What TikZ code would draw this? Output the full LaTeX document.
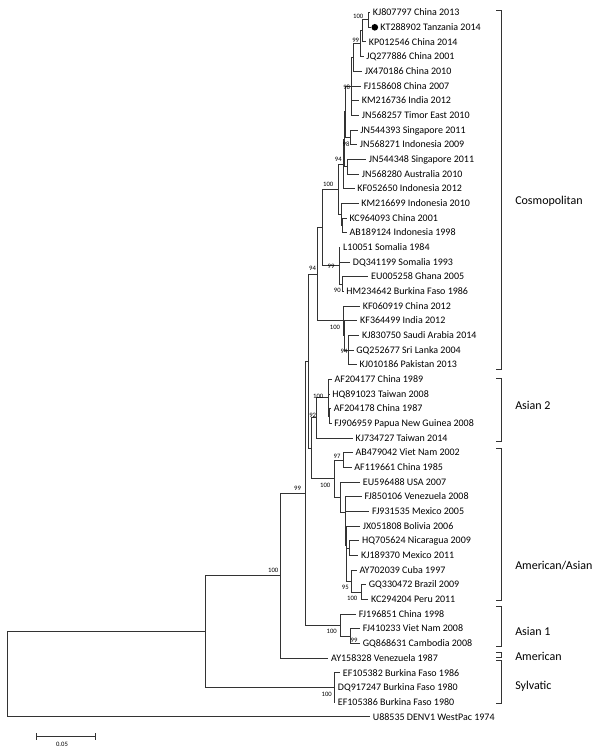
\documentclass[tikz,border=0pt]{standalone}
\usepackage{fontspec}
\setmainfont{Carlito}
\usetikzlibrary{shapes.geometric}
\begin{document}
\begin{tikzpicture}[x=0.75pt, y=-0.75pt,
  taxon/.style={anchor=west, inner xsep=2pt, inner ysep=0pt, text height=4.8pt, text depth=0pt, font=\fontsize{7.5}{8}\selectfont},
  boot/.style={inner sep=0pt, font=\fontsize{5}{6}\selectfont},
  clade/.style={anchor=west, inner sep=0pt, text height=6pt, text depth=0pt, font=\fontsize{9}{10}\selectfont},
  branch/.style={line width=0.7pt, black!80}]

\useasboundingbox (0,0) rectangle (600,750);

\node[taxon] (t1) at (370,12.6) {KJ807797 China 2013};
\node[circle, fill=black, inner sep=0pt, minimum size=5pt] (dot) at (374.8,27.3) {};
\node[taxon] (t2) at (377.5,27.3) {KT288902 Tanzania 2014};
\node[taxon] (t3) at (366,41.9) {KP012546 China 2014};
\node[taxon] (t4) at (363.5,56.6) {JQ277886 China 2001};
\node[taxon] (t5) at (362,71.3) {JX470186 China 2010};
\node[taxon] (t6) at (361,86) {FJ158608 China 2007};
\node[taxon] (t7) at (359,100.6) {KM216736 India 2012};
\node[taxon] (t8) at (359,115.3) {JN568257 Timor East 2010};
\node[taxon] (t9) at (357.5,130) {JN544393 Singapore 2011};
\node[taxon] (t10) at (357,144.6) {JN568271 Indonesia 2009};
\node[taxon] (t11) at (366,159.3) {JN544348 Singapore 2011};
\node[taxon] (t12) at (359,174) {JN568280 Australia 2010};
\node[taxon] (t13) at (354.5,188.6) {KF052650 Indonesia 2012};
\node[taxon] (t14) at (358.5,203.3) {KM216699 Indonesia 2010};
\node[taxon] (t15) at (346.7,218) {KC964093 China 2001};
\node[taxon] (t16) at (346.7,232.7) {AB189124 Indonesia 1998};
\node[taxon] (t17) at (340.3,247.3) {L10051 Somalia 1984};
\node[taxon] (t18) at (350,262) {DQ341199 Somalia 1993};
\node[taxon] (t19) at (368.3,276.7) {EU005258 Ghana 2005};
\node[taxon] (t20) at (343.5,291.3) {HM234642 Burkina Faso 1986};
\node[taxon] (t21) at (360,306) {KF060919 China 2012};
\node[taxon] (t22) at (357.3,320.7) {KF364499 India 2012};
\node[taxon] (t23) at (359.3,335.3) {KJ830750 Saudi Arabia 2014};
\node[taxon] (t24) at (353.5,350) {GQ252677 Sri Lanka 2004};
\node[taxon] (t25) at (356.7,364.7) {KJ010186 Pakistan 2013};
\node[taxon] (t26) at (331.7,379.3) {AF204177 China 1989};
\node[taxon] (t27) at (329.5,394) {HQ891023 Taiwan 2008};
\node[taxon] (t28) at (331,408.7) {AF204178 China 1987};
\node[taxon] (t29) at (331.5,423.4) {FJ906959 Papua New Guinea 2008};
\node[taxon] (t30) at (352.7,438) {KJ734727 Taiwan 2014};
\node[taxon] (t31) at (352.7,452.7) {AB479042 Viet Nam 2002};
\node[taxon] (t32) at (351.5,467.4) {AF119661 China 1985};
\node[taxon] (t33) at (360,482) {EU596488 USA 2007};
\node[taxon] (t34) at (361.7,496.7) {FJ850106 Venezuela 2008};
\node[taxon] (t35) at (369.3,511.4) {FJ931535 Mexico 2005};
\node[taxon] (t36) at (360,526) {JX051808 Bolivia 2006};
\node[taxon] (t37) at (359.3,540.7) {HQ705624 Nicaragua 2009};
\node[taxon] (t38) at (358.3,555.4) {KJ189370 Mexico 2011};
\node[taxon] (t39) at (356.7,570.1) {AY702039 Cuba 1997};
\node[taxon] (t40) at (366,584.7) {GQ330472 Brazil 2009};
\node[taxon] (t41) at (368.3,599.4) {KC294204 Peru 2011};
\node[taxon] (t42) at (356,614.1) {FJ196851 China 1998};
\node[taxon] (t43) at (360,628.7) {FJ410233 Viet Nam 2008};
\node[taxon] (t44) at (360,643.4) {GQ868631 Cambodia 2008};
\node[taxon] (t45) at (328.3,658.1) {AY158328 Venezuela 1987};
\node[taxon] (t46) at (340,672.8) {EF105382 Burkina Faso 1986};
\node[taxon] (t47) at (335,687.4) {DQ917247 Burkina Faso 1980};
\node[taxon] (t48) at (335,702.1) {EF105386 Burkina Faso 1980};
\node[taxon] (t49) at (370,716.8) {U88535 DENV1 WestPac 1974};

\coordinate (n1) at (368.3,19.9);
\coordinate (n2) at (362,30.9);
\coordinate (n3) at (360.5,43.8);
\coordinate (n4) at (353.3,57.5);
\coordinate (n5) at (351.7,86.4);
\coordinate (n6) at (350,137.3);
\coordinate (n7) at (345.3,111.9);
\coordinate (n8) at (347.5,166.6);
\coordinate (n9) at (344.3,139.3);
\coordinate (n10) at (343.3,164);
\coordinate (n11) at (342.7,225.3);
\coordinate (n12) at (341.7,214.3);
\coordinate (n13) at (338.5,189.1);
\coordinate (n14) at (342.5,284);
\coordinate (n15) at (339.3,265.7);
\coordinate (n16) at (322.3,227.4);
\coordinate (n17) at (348.3,350);
\coordinate (n18) at (344.3,335.3);
\coordinate (n19) at (343.3,320.7);
\coordinate (n20) at (317.7,274);
\coordinate (n21) at (329.3,416);
\coordinate (n22) at (328.3,397.7);
\coordinate (n23) at (316.7,417.9);
\coordinate (n24) at (343.3,460);
\coordinate (n25) at (361.7,592.1);
\coordinate (n26) at (351,581.1);
\coordinate (n27) at (349,548.1);
\coordinate (n28) at (346.3,564.6);
\coordinate (n29) at (346,545.3);
\coordinate (n30) at (345.7,528.3);
\coordinate (n31) at (345,512.5);
\coordinate (n32) at (340,497.3);
\coordinate (n33) at (334.3,478.7);
\coordinate (n34) at (311.7,448.3);
\coordinate (n35) at (308.3,361.2);
\coordinate (n36) at (350.7,636.1);
\coordinate (n37) at (340.7,625.1);
\coordinate (n38) at (305,493.1);
\coordinate (n39) at (280,575.6);
\coordinate (n40) at (334.3,687.4);
\coordinate (n41) at (205,631.5);
\coordinate (n42) at (7,674.1);

\draw[branch] (n1) |- (t1.west) (n1) |- (dot.west);
\draw[branch] (n2) |- (n1) (n2) |- (t3.west);
\draw[branch] (n3) |- (n2) (n3) |- (t4.west);
\draw[branch] (n4) |- (n3) (n4) |- (t5.west);
\draw[branch] (n5) |- (n4) (n5) |- (t6.west) (n5) |- (t7.west) (n5) |- (t8.west);
\draw[branch] (n6) |- (t9.west) (n6) |- (t10.west);
\draw[branch] (n7) |- (n5) (n7) |- (n6);
\draw[branch] (n8) |- (t11.west) (n8) |- (t12.west);
\draw[branch] (n9) |- (n7) (n9) |- (n8);
\draw[branch] (n10) |- (n9) (n10) |- (t13.west);
\draw[branch] (n11) |- (t15.west) (n11) |- (t16.west);
\draw[branch] (n12) |- (t14.west) (n12) |- (n11);
\draw[branch] (n13) |- (n10) (n13) |- (n12);
\draw[branch] (n14) |- (t19.west) (n14) |- (t20.west);
\draw[branch] (n15) |- (t17.west) (n15) |- (t18.west) (n15) |- (n14);
\draw[branch] (n16) |- (n13) (n16) |- (n15);
\draw[branch] (n17) |- (t23.west) (n17) |- (t24.west) (n17) |- (t25.west);
\draw[branch] (n18) |- (t22.west) (n18) |- (n17);
\draw[branch] (n19) |- (t21.west) (n19) |- (n18);
\draw[branch] (n20) |- (n16) (n20) |- (n19);
\draw[branch] (n21) |- (t28.west) (n21) |- (t29.west);
\draw[branch] (n22) |- (t26.west) (n22) |- (t27.west) (n22) |- (n21);
\draw[branch] (n23) |- (n22) (n23) |- (t30.west);
\draw[branch] (n24) |- (t31.west) (n24) |- (t32.west);
\draw[branch] (n25) |- (t40.west) (n25) |- (t41.west);
\draw[branch] (n26) |- (t39.west) (n26) |- (n25);
\draw[branch] (n27) |- (t37.west) (n27) |- (t38.west);
\draw[branch] (n28) |- (n27) (n28) |- (n26);
\draw[branch] (n29) |- (t36.west) (n29) |- (n28);
\draw[branch] (n30) |- (t35.west) (n30) |- (n29);
\draw[branch] (n31) |- (t34.west) (n31) |- (n30);
\draw[branch] (n32) |- (t33.west) (n32) |- (n31);
\draw[branch] (n33) |- (n24) (n33) |- (n32);
\draw[branch] (n34) |- (n23) (n34) |- (n33);
\draw[branch] (n35) |- (n20) (n35) |- (n34);
\draw[branch] (n36) |- (t43.west) (n36) |- (t44.west);
\draw[branch] (n37) |- (t42.west) (n37) |- (n36);
\draw[branch] (n38) |- (n35) (n38) |- (n37);
\draw[branch] (n39) |- (n38) (n39) |- (t45.west);
\draw[branch] (n40) |- (t46.west) (n40) |- (t47.west) (n40) |- (t48.west);
\draw[branch] (n41) |- (n39) (n41) |- (n40);
\draw[branch] (n42) |- (n41) (n42) |- (t49.west);

\node[boot] (b1) at (358.3,16) {100};
\node[boot] (b2) at (355.7,40) {99};
\node[boot] (b3) at (346.7,87) {98};
\node[boot] (b4) at (346,144.5) {98};
\node[boot] (b5) at (338.3,159.3) {94};
\node[boot] (b6) at (328.3,184.5) {100};
\node[boot] (b7) at (331,266.5) {99};
\node[boot] (b8) at (337.3,290.7) {90};
\node[boot] (b9) at (312.5,268.3) {94};
\node[boot] (b10) at (335,327.3) {100};
\node[boot] (b11) at (344,351.7) {94};
\node[boot] (b12) at (318.3,396) {100};
\node[boot] (b13) at (312.7,415) {92};
\node[boot] (b14) at (337,456.7) {97};
\node[boot] (b15) at (325.3,485) {100};
\node[boot] (b16) at (297.5,488.5) {99};
\node[boot] (b17) at (273.3,570.7) {100};
\node[boot] (b18) at (345.3,587.3) {95};
\node[boot] (b19) at (352.3,598.3) {100};
\node[boot] (b20) at (331.7,631.7) {100};
\node[boot] (b21) at (354,640.7) {99};
\node[boot] (b22) at (326.7,694) {100};

\draw[branch] (496,10) -- (501.7,10) -- (501.7,369.3) -- (496,369.3);
\draw[branch] (496,378.3) -- (501.7,378.3) -- (501.7,441.7) -- (496,441.7);
\draw[branch] (496,448.3) -- (501.7,448.3) -- (501.7,600) -- (496,600);
\draw[branch] (496,606.7) -- (501.7,606.7) -- (501.7,646.7) -- (496,646.7);
\draw[branch] (496,652.7) -- (501.7,652.7) -- (501.7,657.3) -- (496,657.3);
\draw[branch] (496,660.7) -- (501.7,660.7) -- (501.7,703.3) -- (496,703.3);

\node[clade] (c1) at (515,200) {Cosmopolitan};
\node[clade] (c2) at (515,405) {Asian 2};
\node[clade] (c3) at (515,565) {American/Asian};
\node[clade] (c4) at (515,631.7) {Asian 1};
\node[clade] (c5) at (515,656.7) {American};
\node[clade] (c6) at (515,685) {Sylvatic};

\coordinate (s1) at (36,736.7);
\coordinate (s2) at (95,736.7);
\draw[branch] (s1) -- (s2);
\draw[branch] ([yshift=2.5]s1) -- ([yshift=-2.5]s1);
\draw[branch] ([yshift=2.5]s2) -- ([yshift=-2.5]s2);
\node[boot] (sc) at (62,744) {0.05};

\end{tikzpicture}
\end{document}
